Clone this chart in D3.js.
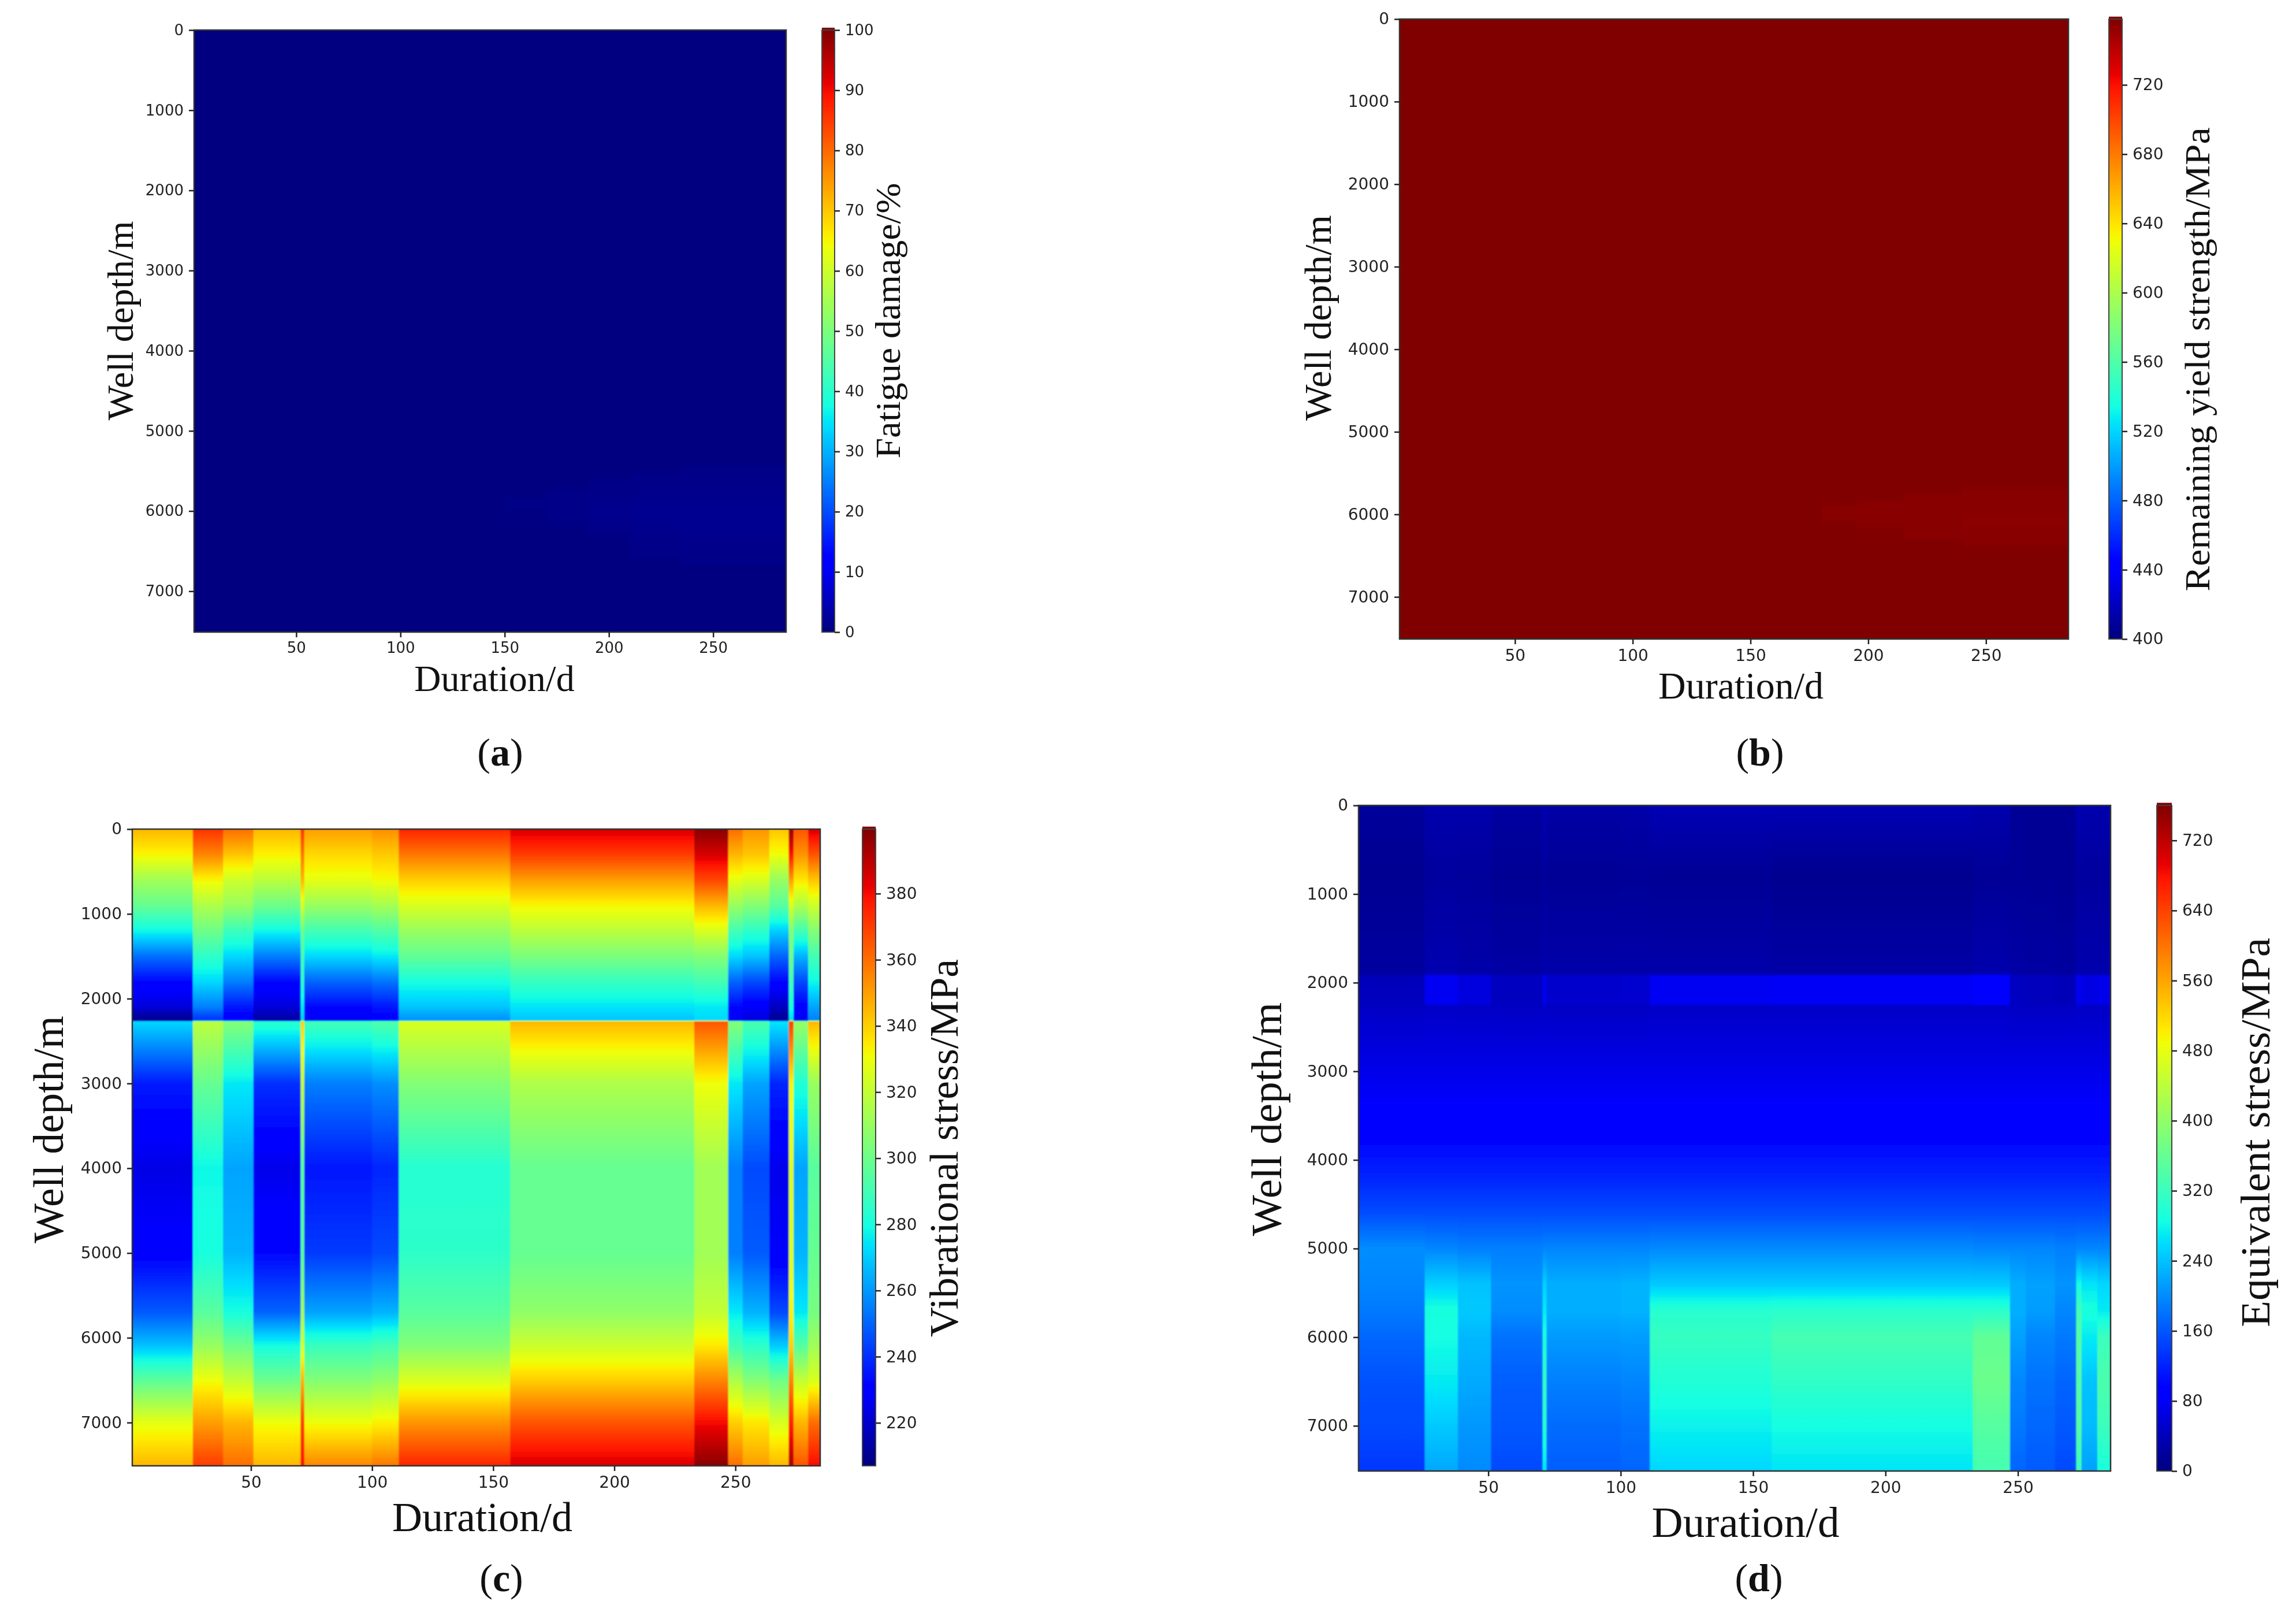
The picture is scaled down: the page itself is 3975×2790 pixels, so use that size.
<!DOCTYPE html>
<html>
<head>
<meta charset="utf-8">
<style>
html, body { margin: 0; padding: 0; background: #fff; }
svg { display: block; }
.tick text { font-family: "DejaVu Sans", sans-serif; fill: #222; }
.tick line, .domain { stroke: #222; }
.title { font-family: "Liberation Serif", serif; fill: #111; }
</style>
<script src="https://cdn.jsdelivr.net/npm/d3@7/dist/d3.min.js"></script>
</head>
<body>
<div id="chart"></div>
<script>
// duration bands shared by the stress panels (column edges, in days)
var durationEdges = [1, 26, 38.5, 51, 70.5, 72, 100, 111, 157, 233, 247, 253, 264, 272, 274, 280, 285];

var xTicks = [50, 100, 150, 200, 250];
var depthTicks = [0, 1000, 2000, 3000, 4000, 5000, 6000, 7000];

// (c) vibrational stress, one list per duration band, read at vibDepths
var vibDepths = [0, 300, 600, 900, 1200, 1500, 1800, 2100, 2255, 2270, 3000, 4000, 5000, 5700, 6100, 6500, 7000, 7510];
var vibA = [345, 332, 312, 298, 278, 252, 232, 222, 208, 272, 236, 224, 230, 248, 268, 296, 328, 345];
var vibB = [372, 355, 332, 315, 300, 285, 272, 255, 240, 318, 298, 278, 280, 295, 310, 330, 350, 370];
var vibC = [360, 342, 322, 310, 288, 272, 255, 235, 228, 305, 275, 262, 265, 280, 300, 320, 345, 360];
var vibD = [345, 333, 318, 300, 278, 255, 232, 222, 212, 285, 240, 225, 232, 250, 280, 300, 330, 345];
var vibE = [372, 358, 345, 325, 300, 290, 285, 275, 270, 340, 320, 295, 295, 312, 325, 345, 370, 380];
var vibF = [350, 338, 328, 310, 290, 272, 250, 232, 226, 290, 255, 235, 242, 262, 288, 305, 330, 355];
var vibG = [353, 341, 331, 313, 293, 275, 253, 235, 229, 293, 258, 238, 245, 265, 291, 308, 333, 358];
var vibH = [375, 358, 340, 325, 310, 297, 280, 268, 258, 325, 305, 283, 285, 295, 305, 325, 352, 375];
var vibI = [385, 370, 350, 332, 318, 303, 287, 274, 268, 345, 315, 298, 298, 308, 322, 340, 365, 385];
var vibJ = [398, 385, 368, 345, 325, 305, 290, 275, 272, 365, 330, 312, 312, 320, 335, 355, 380, 398];
var vibK = [360, 345, 328, 310, 290, 272, 250, 232, 225, 305, 275, 255, 255, 275, 290, 315, 340, 360];
var vibL = [352, 342, 325, 305, 285, 268, 245, 228, 222, 292, 262, 245, 248, 265, 285, 305, 335, 350];
var vibM = [342, 330, 310, 295, 270, 250, 232, 218, 210, 275, 238, 225, 228, 245, 270, 300, 325, 345];
var vibN = [395, 378, 350, 325, 305, 300, 290, 280, 272, 370, 332, 325, 325, 332, 340, 355, 375, 392];
var vibO = [365, 352, 335, 315, 290, 265, 245, 230, 225, 310, 282, 262, 265, 275, 295, 320, 345, 365];
var vibP = [385, 365, 342, 322, 305, 290, 278, 262, 255, 345, 310, 295, 298, 302, 312, 325, 360, 380];

// (d) equivalent stress, same bands, read at eqDepths
var eqDepths = [0, 800, 1900, 1925, 2240, 2260, 3000, 3400, 3800, 4200, 4600, 5000, 5400, 5700, 6000, 6500, 7000, 7510];
var eqA = [18, 12, 22, 38, 42, 45, 70, 84, 98, 122, 152, 200, 195, 185, 172, 155, 150, 135];
var eqB = [30, 20, 32, 75, 75, 47, 70, 84, 98, 122, 152, 195, 250, 290, 285, 270, 245, 220];
var eqC = [30, 18, 28, 62, 62, 46, 70, 84, 98, 122, 152, 190, 240, 245, 232, 222, 208, 198];
var eqD = [22, 14, 25, 42, 42, 45, 70, 84, 98, 122, 152, 190, 205, 200, 180, 165, 160, 150];
var eqE = [35, 20, 30, 72, 72, 47, 70, 84, 98, 122, 152, 195, 250, 270, 290, 310, 300, 265];
var eqF = [25, 15, 28, 50, 50, 45, 70, 84, 98, 122, 152, 195, 225, 225, 210, 190, 175, 165];
var eqG = [27, 16, 28, 52, 52, 45, 70, 84, 98, 122, 152, 195, 228, 228, 212, 194, 180, 170];
var eqH = [35, 14, 28, 75, 75, 47, 70, 84, 98, 122, 152, 198, 245, 302, 315, 296, 275, 255];
var eqI = [35, 10, 26, 78, 78, 47, 70, 84, 98, 122, 152, 198, 245, 305, 330, 310, 285, 265];
var eqJ = [30, 15, 30, 95, 95, 47, 70, 84, 98, 122, 152, 195, 245, 305, 355, 365, 345, 330];
var eqK = [15, 15, 25, 42, 42, 45, 70, 84, 98, 122, 152, 195, 225, 225, 215, 195, 185, 170];
var eqL = [14, 14, 24, 40, 40, 45, 70, 84, 98, 122, 152, 195, 215, 212, 195, 180, 172, 162];
var eqM = [15, 13, 22, 38, 38, 45, 70, 84, 98, 122, 152, 190, 205, 195, 185, 170, 160, 150];
var eqN = [35, 22, 32, 75, 75, 47, 70, 84, 98, 122, 152, 195, 285, 330, 345, 345, 345, 320];
var eqO = [30, 20, 30, 65, 65, 46, 70, 84, 98, 122, 152, 195, 265, 290, 270, 240, 235, 215];
var eqP = [30, 20, 30, 70, 70, 46, 70, 84, 98, 122, 152, 195, 255, 270, 320, 335, 320, 290];

// (a) fatigue damage, nearly flat, faint wedge at the lower right
var fatigueEdges = [1, 150, 170, 190, 210, 235, 285];
var fatigueDepths = [0, 5400, 5450, 5550, 5650, 5800, 5900, 6100, 6250, 6400, 6550, 6650, 6700, 7510];
var fatA = [0, 0, 0, 0, 0, 0, 0, 0, 0, 0, 0, 0, 0, 0];
var fatB = [0, 0, 0, 0, 0, 0, 0.8, 0, 0, 0, 0, 0, 0, 0];
var fatC = [0, 0, 0, 0, 0, 0.8, 0.8, 0.8, 0, 0, 0, 0, 0, 0];
var fatD = [0, 0, 0, 0, 0.8, 0.8, 1.1, 1.1, 0.8, 0, 0, 0, 0, 0];
var fatE = [0, 0, 0, 0.8, 0.8, 1, 1.4, 1.4, 1.1, 0.8, 0.8, 0, 0, 0];
var fatF = [0, 0, 0.8, 0.8, 0.8, 1, 1.4, 1.4, 1.4, 1, 0.8, 0.8, 0, 0];

// (b) remaining yield strength, same idea
var yieldEdges = [1, 180, 195, 215, 240, 285];
var yieldDepths = [0, 5600, 5650, 5720, 5780, 5860, 5920, 6060, 6120, 6220, 6280, 6350, 6420, 7510];
var yieldA = [758, 758, 758, 758, 758, 758, 758, 758, 758, 758, 758, 758, 758, 758];
var yieldB = [758, 758, 758, 758, 758, 758, 755.5, 755.5, 758, 758, 758, 758, 758, 758];
var yieldC = [758, 758, 758, 758, 758, 755.5, 755.5, 755.5, 755.5, 758, 758, 758, 758, 758];
var yieldD = [758, 758, 758, 758, 755.5, 755.5, 755.5, 755, 755, 755.5, 755.5, 758, 758, 758];
var yieldE = [758, 758, 758, 755.5, 755.5, 755.5, 755, 754.5, 754.5, 755, 755.5, 755.5, 758, 758];

// colorbar ticks
var fatigueTicks = [0, 10, 20, 30, 40, 50, 60, 70, 80, 90, 100];
var yieldTicks = [400, 440, 480, 520, 560, 600, 640, 680, 720];
var vibTicks = [220, 240, 260, 280, 300, 320, 340, 360, 380];
var eqTicks = [0, 80, 160, 240, 320, 400, 480, 560, 640, 720];

// matplotlib jet breakpoints
var jetR = d3.scaleLinear().domain([0, 0.35, 0.66, 0.89, 1]).range([0, 0, 1, 1, 0.5]).clamp(true);
var jetG = d3.scaleLinear().domain([0, 0.125, 0.375, 0.64, 0.91, 1]).range([0, 0, 1, 1, 0, 0]).clamp(true);
var jetB = d3.scaleLinear().domain([0, 0.11, 0.34, 0.65, 1]).range([0.5, 1, 1, 0, 0]).clamp(true);

function jet(t) {
    return d3.rgb(jetR(t) * 255, jetG(t) * 255, jetB(t) * 255).formatHex();
}

var panels = [
    {
        id: "a", letter: "a", left: 336, right: 1361, top: 52, bottom: 1094,
        barLeft: 1423, barRight: 1445, valueRange: [0, 100], barTicks: fatigueTicks,
        edges: fatigueEdges, depths: fatigueDepths, columns: [fatA, fatB, fatC, fatD, fatE, fatF],
        barTitle: "Fatigue damage/%", barSize: 62, barLen: 477, barX: 1558, barY: 555,
        depthSize: 64, depthX: 230, depthY: 555,
        xSize: 64, xX: 856, xY: 1196, tickSize: 26,
        labelX: 866, labelY: 1325
    },
    {
        id: "b", letter: "b", left: 2423, right: 3581, top: 33, bottom: 1106,
        barLeft: 3651, barRight: 3674, valueRange: [400, 758], barTicks: yieldTicks,
        edges: yieldEdges, depths: yieldDepths, columns: [yieldA, yieldB, yieldC, yieldD, yieldE],
        barTitle: "Remaining yield strength/MPa", barSize: 62, barLen: 803, barX: 3825, barY: 622,
        depthSize: 66, depthX: 2304, depthY: 550,
        xSize: 66, xX: 3014, xY: 1209, tickSize: 28,
        labelX: 3047, labelY: 1325
    },
    {
        id: "c", letter: "c", left: 229, right: 1420, top: 1435, bottom: 2537,
        barLeft: 1493, barRight: 1516, valueRange: [207, 399.5], barTicks: vibTicks,
        edges: durationEdges, depths: vibDepths,
        columns: [vibA, vibB, vibC, vibD, vibE, vibF, vibG, vibH, vibI, vibJ, vibK, vibL, vibM, vibN, vibO, vibP],
        barTitle: "Vibrational stress/MPa", barSize: 70, barLen: 654, barX: 1658, barY: 1987,
        depthSize: 73, depthX: 109, depthY: 1955,
        xSize: 72, xX: 835, xY: 2650, tickSize: 28,
        labelX: 868, labelY: 2754
    },
    {
        id: "d", letter: "d", left: 2352, right: 3654, top: 1394, bottom: 2546,
        barLeft: 3734, barRight: 3760, valueRange: [0, 760], barTicks: eqTicks,
        edges: durationEdges, depths: eqDepths,
        columns: [eqA, eqB, eqC, eqD, eqE, eqF, eqG, eqH, eqI, eqJ, eqK, eqL, eqM, eqN, eqO, eqP],
        barTitle: "Equivalent stress/MPa", barSize: 72, barLen: 674, barX: 3929, barY: 1960,
        depthSize: 75, depthX: 2218, depthY: 1937,
        xSize: 75, xX: 3022, xY: 2660, tickSize: 28,
        labelX: 3045, labelY: 2754
    }
];

var svg = d3.select("#chart").append("svg")
    .attr("width", 3975)
    .attr("height", 2790);

var defs = svg.append("defs");

// the reference is a soft raster, so blur the heatmaps a little
// (more than this turns the narrow bands grey)
defs.append("filter")
    .attr("id", "soft")
    .append("feGaussianBlur")
    .attr("stdDeviation", 1.3);

defs.append("filter")
    .attr("id", "softText")
    .append("feGaussianBlur")
    .attr("stdDeviation", 0.6);

panels.forEach(drawPanel);

function drawPanel(p) {
    var xScale = d3.scaleLinear().domain([1, 285]).range([p.left, p.right]);
    var yScale = d3.scaleLinear().domain([0, 7510]).range([p.top, p.bottom]);
    var barScale = d3.scaleLinear().domain(p.valueRange).range([p.bottom, p.top]);
    var tScale = d3.scaleLinear().domain(p.valueRange).range([0, 1]);

    var g = svg.append("g").attr("class", "panel-" + p.id);

    defs.append("clipPath")
        .attr("id", "clip-" + p.id)
        .append("rect")
        .attr("x", p.left)
        .attr("y", p.top)
        .attr("width", p.right - p.left)
        .attr("height", p.bottom - p.top);

    // one vertical gradient per duration band
    p.columns.forEach(function(values, i) {
        var stops = [];
        values.forEach(function(v, k) {
            if (k === values.length - 1) {
                stops.push({depth: p.depths[k], value: v});
                return;
            }
            var gap = p.depths[k + 1] - p.depths[k];
            // colours between knots go through jet, not straight rgb
            d3.range(8).forEach(function(s) {
                stops.push({
                    depth: p.depths[k] + gap * s / 8,
                    value: v + (values[k + 1] - v) * s / 8
                });
            });
        });

        defs.append("linearGradient")
            .attr("id", "grad-" + p.id + "-" + i)
            .attr("gradientUnits", "userSpaceOnUse")
            .attr("x1", 0).attr("x2", 0)
            .attr("y1", p.top).attr("y2", p.bottom)
            .selectAll("stop")
            .data(stops)
            .enter()
            .append("stop")
            .attr("offset", function(d) { return (yScale(d.depth) - p.top) / (p.bottom - p.top); })
            .attr("stop-color", function(d) { return jet(tScale(d.value)); });
    });

    var heat = g.append("g").attr("clip-path", "url(#clip-" + p.id + ")")
        .append("g").attr("filter", "url(#soft)");

    heat.selectAll("rect")
        .data(p.columns)
        .enter()
        .append("rect")
        .attr("x", function(d, i) { return xScale(p.edges[i]) - (i === 0 ? 6 : 0); })
        .attr("y", p.top - 6)
        .attr("width", function(d, i) {
            // small overlap so no white seam shows between bands
            return xScale(p.edges[i + 1]) - xScale(p.edges[i]) + (i === 0 ? 7 : 1) + (i === p.columns.length - 1 ? 6 : 0);
        })
        .attr("height", p.bottom - p.top + 12)
        .attr("fill", function(d, i) { return "url(#grad-" + p.id + "-" + i + ")"; });

    g.append("rect")
        .attr("x", p.left)
        .attr("y", p.top)
        .attr("width", p.right - p.left)
        .attr("height", p.bottom - p.top)
        .attr("fill", "none")
        .attr("stroke", "#333")
        .attr("stroke-width", 2.5);

    var xAxis = g.append("g")
        .attr("transform", "translate(0," + p.bottom + ")")
        .call(d3.axisBottom(xScale).tickValues(xTicks).tickSize(9).tickPadding(9));
    var yAxis = g.append("g")
        .attr("transform", "translate(" + p.left + ",0)")
        .call(d3.axisLeft(yScale).tickValues(depthTicks).tickFormat(d3.format("d")).tickSize(9).tickPadding(9));

    // colorbar, drawn from the same colour scale
    var barValues = d3.range(256).map(function(i) {
        return p.valueRange[0] + (p.valueRange[1] - p.valueRange[0]) * i / 255;
    });
    var barStep = (p.bottom - p.top) / 255;

    g.append("g").selectAll("rect")
        .data(barValues)
        .enter()
        .append("rect")
        .attr("x", p.barLeft)
        .attr("y", function(d) { return barScale(d) - barStep; })
        .attr("width", p.barRight - p.barLeft)
        .attr("height", barStep + 1)
        .attr("fill", function(d) { return jet(tScale(d)); });

    g.append("rect")
        .attr("x", p.barLeft)
        .attr("y", p.top)
        .attr("width", p.barRight - p.barLeft)
        .attr("height", p.bottom - p.top)
        .attr("fill", "none")
        .attr("stroke", "#444")
        .attr("stroke-width", 2);

    var barAxis = g.append("g")
        .attr("transform", "translate(" + p.barRight + ",0)")
        .call(d3.axisRight(barScale).tickValues(p.barTicks).tickFormat(d3.format("d")).tickSize(9).tickPadding(9));

    [xAxis, yAxis, barAxis].forEach(function(axis) {
        axis.select(".domain").remove();
        axis.selectAll(".tick line").attr("stroke-width", 2.5);
        axis.selectAll(".tick text")
            .style("font-size", p.tickSize + "px")
            .attr("filter", "url(#softText)");
    });

    g.append("text")
        .attr("class", "title")
        .attr("text-anchor", "middle")
        .attr("transform", "translate(" + p.depthX + "," + p.depthY + ") rotate(-90)")
        .style("font-size", p.depthSize + "px")
        .text("Well depth/m");

    g.append("text")
        .attr("class", "title")
        .attr("text-anchor", "middle")
        .attr("x", p.xX)
        .attr("y", p.xY)
        .style("font-size", p.xSize + "px")
        .text("Duration/d");

    g.append("text")
        .attr("class", "title")
        .attr("text-anchor", "middle")
        .attr("transform", "translate(" + p.barX + "," + p.barY + ") rotate(-90)")
        .attr("textLength", p.barLen)
        .attr("lengthAdjust", "spacingAndGlyphs")
        .style("font-size", p.barSize + "px")
        .text(p.barTitle);

    var label = g.append("text")
        .attr("class", "title")
        .attr("text-anchor", "middle")
        .attr("x", p.labelX)
        .attr("y", p.labelY)
        .style("font-size", "68px");
    label.append("tspan").text("(");
    label.append("tspan").style("font-weight", "bold").text(p.letter);
    label.append("tspan").text(")");
}
</script>
</body>
</html>
